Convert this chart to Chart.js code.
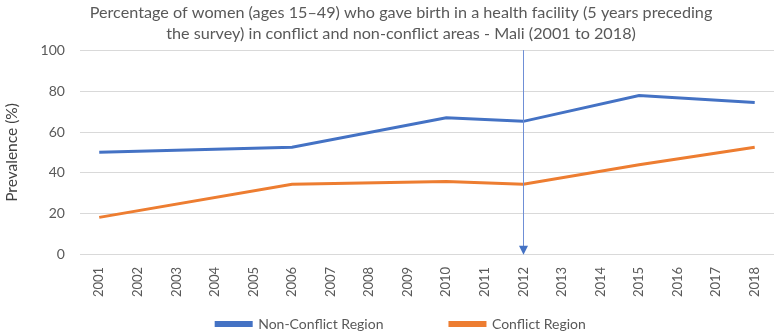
<!DOCTYPE html>
<html lang="en">
<head>
  <meta charset="UTF-8">
  <title>Mali health facility births</title>
  <script src="https://cdn.jsdelivr.net/npm/chart.js"></script>
  <style>
    body {
      margin: 0;
      padding: 0;
      background: #fff;
    }
    #wrap {
      width: 778px;
      height: 335px;
      position: relative;
    }
  </style>
</head>
<body>

<div id="wrap">
  <canvas id="chart"></canvas>
</div>

<script>
  const years = ["2001", "2002", "2003", "2004", "2005", "2006", "2007", "2008", "2009",
                 "2010", "2011", "2012", "2013", "2014", "2015", "2016", "2017", "2018"];
  // only survey years have values, the rest are gaps the line spans over
  const nonConflict = [50.1, null, null, null, null, 52.6, null, null, null,
                       67.0, null, 65.2, null, null, 77.8, null, null, 74.4];
  const conflict = [18.3, null, null, null, null, 34.5, null, null, null,
                    35.8, null, 34.5, null, null, 44.0, null, null, 52.6];
  const yTicks = [0, 20, 40, 60, 80, 100];
  const markerYear = "2012";

  const FONT = "Lato, 'Liberation Sans', sans-serif";
  const GREY = "#595959";

  // vertical arrow at the conflict start year
  const arrowPlugin = {
    id: "arrow",
    afterDatasetsDraw(chart) {
      const ctx = chart.ctx;
      const xs = chart.scales.x, ys = chart.scales.y;
      const x = Math.round(xs.getPixelForValue(years.indexOf(markerYear))) + 0.5;
      const top = ys.getPixelForValue(yTicks[yTicks.length - 1]);
      const bottom = ys.getPixelForValue(yTicks[0]);
      ctx.save();
      ctx.strokeStyle = "#6f8fd6";
      ctx.fillStyle = "#4472C4";
      ctx.lineWidth = 1;
      ctx.beginPath();
      ctx.moveTo(x, top);
      ctx.lineTo(x, bottom - 8);
      ctx.stroke();
      ctx.beginPath();
      ctx.moveTo(x - 4.5, bottom - 9);
      ctx.lineTo(x + 4.5, bottom - 9);
      ctx.lineTo(x, bottom);
      ctx.closePath();
      ctx.fill();
      ctx.restore();
    }
  };

  new Chart(document.getElementById("chart"), {
    type: "line",
    data: {
      labels: years,
      datasets: [
        {
          label: "Non-Conflict Region",
          data: nonConflict,
          borderColor: "#4472C4",
          backgroundColor: "#4472C4",
          borderWidth: 3,
          pointRadius: 0,
          spanGaps: true,
          tension: 0
        },
        {
          label: "Conflict Region",
          data: conflict,
          borderColor: "#ED7D31",
          backgroundColor: "#ED7D31",
          borderWidth: 3,
          pointRadius: 0,
          spanGaps: true,
          tension: 0
        }
      ]
    },
    options: {
      responsive: true,
      maintainAspectRatio: false,
      animation: false,
      // negative bottom pushes the legend a little lower, as in the original
      layout: { padding: { left: 28, right: 4, top: 0, bottom: -6 } },
      plugins: {
        title: {
          display: true,
          text: ["Percentage of women (ages 15\u201349) who gave birth in a health facility (5 years preceding",
                 "the survey) in conflict and non-conflict areas - Mali (2001 to 2018)"],
          color: GREY,
          font: { family: FONT, size: 16.2, weight: "normal", lineHeight: 1.3 },
          padding: { top: 2, bottom: 6 }
        },
        legend: {
          position: "bottom",
          labels: {
            color: GREY,
            font: { family: FONT, size: 14 },
            boxWidth: 35,
            boxHeight: 3,
            padding: 2,
            generateLabels(chart) {
              const items = Chart.defaults.plugins.legend.labels.generateLabels(chart);
              // wider gap between the two entries, like the original
              items[0].text += "\u00a0".repeat(18);
              return items;
            }
          }
        },
        tooltip: { enabled: false }
      },
      scales: {
        x: {
          offset: true,
          grid: { display: false },
          border: { display: false },
          afterFit(scale) {
            scale.height += 14;
          },
          ticks: {
            color: GREY,
            font: { family: FONT, size: 13 },
            maxRotation: 90,
            minRotation: 90,
            autoSkip: false,
            padding: 4
          }
        },
        y: {
          min: 0,
          max: 100,
          afterBuildTicks(axis) {
            axis.ticks = yTicks.map(v => ({ value: v }));
          },
          grid: { color: "#d9d9d9", lineWidth: 1, drawTicks: false },
          border: { display: false },
          ticks: {
            color: GREY,
            font: { family: FONT, size: 14 },
            padding: 15
          },
          title: {
            display: true,
            text: "Prevalence (%)",
            color: "#404040",
            font: { family: FONT, size: 15.5 },
            padding: { top: -25, bottom: 4 }
          }
        }
      }
    },
    plugins: [arrowPlugin]
  });
</script>

</body>
</html>
